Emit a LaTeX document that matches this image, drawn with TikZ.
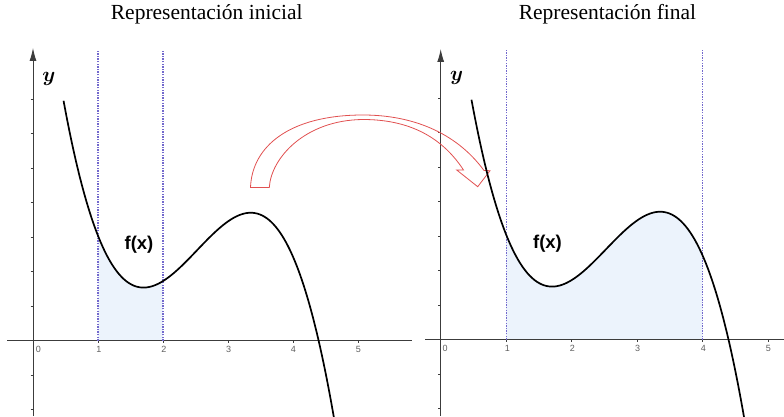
\documentclass[tikz,border=0pt]{standalone}
\usepackage{fontspec}
\usepackage{bm}
\usetikzlibrary{arrows.meta}
\newfontfamily\titlefont{Liberation Serif}
\newfontfamily\labelfont{Liberation Sans}
\definecolor{axisgray}{RGB}{60,60,60}
\definecolor{dashblue}{RGB}{115,105,205}
\definecolor{areablue}{RGB}{236,243,252}
\definecolor{arrowred}{RGB}{225,80,80}
\definecolor{numgray}{RGB}{95,95,95}
\begin{document}
\begin{tikzpicture}[x=1pt,y=1pt,
  declare function={g(\x)=-100*(\x*\x*\x/3-2.525*\x*\x+5.695*\x)+455.1;},
  axisline/.style={draw=axisgray,line width=0.9pt},
  yarrow/.style={axisline,-{Latex[length=13pt,width=7pt]}},
  tickmark/.style={draw=axisgray,line width=0.8pt},
  bound/.style={draw=dashblue,line width=1.3pt,dash pattern=on 1.4pt off 1.2pt},
  curveline/.style={draw=black,line width=1.7pt},
  area/.style={fill=areablue},
  ticklbl/.style={font=\labelfont\fontsize{9}{9}\selectfont,text=numgray,inner sep=0pt,anchor=base},
  titletext/.style={font=\titlefont\fontsize{21.5}{24}\selectfont,inner sep=0pt,anchor=base},
  flabel/.style={font=\labelfont\bfseries\fontsize{18.5}{20}\selectfont,inner sep=0pt},
  ylabel/.style={font=\fontsize{20}{20}\selectfont,inner sep=0pt},
  bendarrow/.style={draw=arrowred,line width=0.8pt,line join=miter}
]
\useasboundingbox (0,0) rectangle (784,416);

% titles
\node[titletext] (t1) at (206.7,396) {Representación inicial};
\node[titletext] (t2) at (607.5,396) {Representación final};

% ---------- left graph ----------
\begin{scope}[shift={(33pt,75.5pt)},x=65pt,y=1pt]
  \fill[area] (1,0) -- plot[domain=1:2,samples=40] (\x,{g(\x)}) -- (2,0) -- cycle;
\end{scope}
\draw[axisline] (7.3,75.5) -- (412,75.5);
\draw[yarrow] (33,0) -- (33,368);
\foreach \k in {-2,-1,1,2,...,7}
  \draw[tickmark] (30.5,75.5+34.5*\k) -- (33,75.5+34.5*\k);
\foreach \i in {1,...,5}
  \draw[tickmark] (33+65*\i,75.5) -- (33+65*\i,73);
\begin{scope}[shift={(33pt,75.5pt)},x=65pt,y=1pt]
  \draw[bound] (1,0) -- (1,290.5);
  \draw[bound] (2,0) -- (2,290.5);
  \begin{scope}
    \clip (-1,-80) rectangle (6,345);
    \draw[curveline] plot[domain=0.47:4.7,samples=120,smooth] (\x,{g(\x)});
  \end{scope}
\end{scope}
\node[ticklbl] (a0) at (38.3,63.5) {0};
\node[ticklbl] (a1) at (99,63.5) {1};
\node[ticklbl] (a2) at (164,63.5) {2};
\node[ticklbl] (a3) at (228.7,63.5) {3};
\node[ticklbl] (a4) at (293.3,63.5) {4};
\node[ticklbl] (a5) at (358.3,63.5) {5};
\node[ylabel] (ya) at (49,337.5) {$\bm{y}$};
\node[flabel] (fa) at (139,171) {f(x)};

% ---------- right graph ----------
\begin{scope}[shift={(440.7pt,76.5pt)},x=65.5pt,y=1pt]
  \fill[area] (1,0) -- plot[domain=1:4,samples=80] (\x,{g(\x)}) -- (4,0) -- cycle;
\end{scope}
\draw[axisline] (425,76.5) -- (784,76.5);
\draw[yarrow] (440.7,0) -- (440.7,367);
\foreach \k in {-2,-1,1,2,...,7}
  \draw[tickmark] (438.2,76.5+34.5*\k) -- (440.7,76.5+34.5*\k);
\foreach \i in {1,...,5}
  \draw[tickmark] (440.7+65.5*\i,76.5) -- (440.7+65.5*\i,74);
\begin{scope}[shift={(440.7pt,76.5pt)},x=65.5pt,y=1pt]
  \draw[bound] (1,0) -- (1,289.5);
  \draw[bound] (4,0) -- (4,289.5);
\end{scope}

% curved block arrow
\draw[bendarrow] (250.5,228.5) .. controls (252,270) and (290,301) .. (363,301)
  .. controls (410,301) and (455,285) .. (484,245.5)
  -- (490,245.3) -- (477.7,229.3) -- (456.7,246) -- (463.5,246)
  .. controls (440,282) and (405,296.5) .. (363,296.5)
  .. controls (305,296) and (271,258) .. (269.3,228.5) -- cycle;

\begin{scope}[shift={(440.7pt,76.5pt)},x=65.5pt,y=1pt]
  \begin{scope}
    \clip (-1,-80) rectangle (6,345);
    \draw[curveline] plot[domain=0.47:4.7,samples=120,smooth] (\x,{g(\x)});
  \end{scope}
\end{scope}
\node[ticklbl] (b0) at (445,64.5) {0};
\node[ticklbl] (b1) at (507.3,64.5) {1};
\node[ticklbl] (b2) at (572.3,64.5) {2};
\node[ticklbl] (b3) at (637.7,64.5) {3};
\node[ticklbl] (b4) at (703.3,64.5) {4};
\node[ticklbl] (b5) at (768.3,64.5) {5};
\node[ylabel] (yb) at (456.7,338.5) {$\bm{y}$};
\node[flabel] (fb) at (547.5,172) {f(x)};
\end{tikzpicture}
\end{document}
